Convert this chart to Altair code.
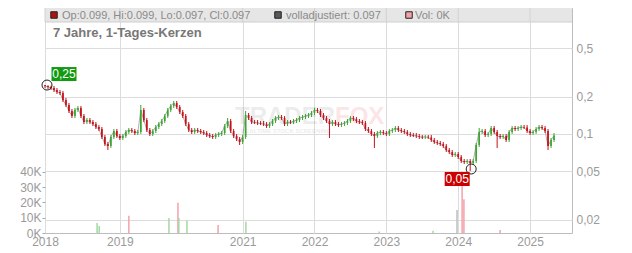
import altair as alt
import pandas as pd

# ---------------- data ----------------
# one candle per ~2 weeks (index axis, as the original uses a trading-day index)
first_open = 0.250
close = [
    0.2456, 0.2410, 0.2366, 0.2279, 0.2195, 0.2154, 0.1890, 0.1721, 0.1538, 0.1400,
    0.1567, 0.1627, 0.1400, 0.1251, 0.1299, 0.1251, 0.1205, 0.1140, 0.1098, 0.0945,
    0.0829, 0.0799, 0.0945, 0.1058, 0.0963, 0.0928, 0.0963, 0.1038, 0.1078, 0.1058,
    0.1019, 0.1038, 0.1567, 0.1299, 0.1078, 0.1000, 0.1058, 0.1140, 0.1205, 0.1275,
    0.1400, 0.1567, 0.1689, 0.1786, 0.1657, 0.1509, 0.1400, 0.1205, 0.1078, 0.1038,
    0.1078, 0.1058, 0.1038, 0.1019, 0.0981, 0.0963, 0.0945, 0.0981, 0.1000, 0.1019,
    0.1161, 0.1275, 0.1058, 0.0963, 0.0911, 0.0861, 0.0945, 0.1427, 0.1349, 0.1251,
    0.1240, 0.1228, 0.1215, 0.1205, 0.1161, 0.1205, 0.1275, 0.1349, 0.1374, 0.1349,
    0.1205, 0.1251, 0.1240, 0.1275, 0.1299, 0.1349, 0.1374, 0.1400, 0.1427, 0.1481,
    0.1567, 0.1538, 0.1427, 0.1349, 0.1275, 0.1205, 0.1251, 0.1205, 0.1183, 0.1205,
    0.1228, 0.1275, 0.1349, 0.1324, 0.1275, 0.1251, 0.1228, 0.1098, 0.1058, 0.1000,
    0.0963, 0.1019, 0.1038, 0.1019, 0.1000, 0.1058, 0.1078, 0.1119, 0.1078, 0.1058,
    0.1038, 0.1000, 0.0981, 0.0970, 0.0963, 0.0950, 0.0940, 0.0948, 0.0938, 0.0894,
    0.0861, 0.0845, 0.0829, 0.0799, 0.0741, 0.0714, 0.0675, 0.0688, 0.0650, 0.0603,
    0.0592, 0.0603, 0.0581, 0.0603, 0.0814, 0.1038, 0.1058, 0.0981, 0.1000, 0.1119,
    0.1038, 0.0963, 0.0945, 0.0963, 0.0894, 0.1038, 0.1119, 0.1098, 0.1119, 0.1140,
    0.1130, 0.1058, 0.1019, 0.1038, 0.1098, 0.1140, 0.1119, 0.1058, 0.0799, 0.0894,
    0.0970,
]
high = [
    0.2500, 0.2490, 0.2470, 0.2456, 0.2366, 0.2279, 0.2237, 0.1962, 0.1786, 0.1596,
    0.1627, 0.1689, 0.1689, 0.1454, 0.1349, 0.1349, 0.1299, 0.1251, 0.1183, 0.1140,
    0.0981, 0.0861, 0.0981, 0.1098, 0.1098, 0.1000, 0.1000, 0.1078, 0.1119, 0.1119,
    0.1098, 0.1078, 0.1721, 0.1627, 0.1349, 0.1119, 0.1098, 0.1183, 0.1251, 0.1324,
    0.1454, 0.1627, 0.1753, 0.1855, 0.1855, 0.1721, 0.1567, 0.1454, 0.1251, 0.1119,
    0.1119, 0.1119, 0.1098, 0.1078, 0.1058, 0.1019, 0.1000, 0.1019, 0.1038, 0.1058,
    0.1205, 0.1349, 0.1324, 0.1098, 0.1000, 0.0945, 0.0981, 0.1538, 0.1481, 0.1400,
    0.1299, 0.1299, 0.1275, 0.1275, 0.1251, 0.1251, 0.1324, 0.1400, 0.1427, 0.1427,
    0.1400, 0.1299, 0.1299, 0.1324, 0.1349, 0.1400, 0.1427, 0.1454, 0.1481, 0.1538,
    0.1627, 0.1627, 0.1596, 0.1481, 0.1400, 0.1324, 0.1299, 0.1299, 0.1251, 0.1251,
    0.1275, 0.1324, 0.1400, 0.1400, 0.1374, 0.1324, 0.1299, 0.1275, 0.1140, 0.1098,
    0.1038, 0.1058, 0.1078, 0.1078, 0.1058, 0.1098, 0.1119, 0.1161, 0.1161, 0.1119,
    0.1098, 0.1078, 0.1038, 0.1019, 0.1019, 0.1000, 0.0981, 0.0981, 0.0981, 0.0981,
    0.0928, 0.0894, 0.0877, 0.0861, 0.0829, 0.0770, 0.0741, 0.0714, 0.0714, 0.0675,
    0.0626, 0.0626, 0.0626, 0.0626, 0.0845, 0.1119, 0.1098, 0.1098, 0.1038, 0.1161,
    0.1161, 0.1078, 0.1000, 0.1000, 0.1000, 0.1078, 0.1161, 0.1161, 0.1161, 0.1183,
    0.1183, 0.1183, 0.1098, 0.1078, 0.1140, 0.1183, 0.1183, 0.1161, 0.1098, 0.0928,
    0.1019,
]
low = [
    0.2366, 0.2322, 0.2279, 0.2195, 0.2114, 0.2075, 0.1820, 0.1657, 0.1481, 0.1349,
    0.1349, 0.1509, 0.1349, 0.1205, 0.1205, 0.1205, 0.1161, 0.1098, 0.1058, 0.0911,
    0.0799, 0.0741, 0.0770, 0.0911, 0.0928, 0.0894, 0.0894, 0.0928, 0.1000, 0.1019,
    0.0981, 0.0981, 0.1000, 0.1251, 0.1038, 0.0963, 0.0963, 0.1019, 0.1098, 0.1161,
    0.1228, 0.1349, 0.1509, 0.1627, 0.1596, 0.1454, 0.1349, 0.1161, 0.1038, 0.1000,
    0.1000, 0.1019, 0.1000, 0.0981, 0.0945, 0.0928, 0.0911, 0.0911, 0.0945, 0.0963,
    0.0981, 0.1119, 0.1019, 0.0928, 0.0877, 0.0814, 0.0829, 0.0911, 0.1299, 0.1205,
    0.1205, 0.1183, 0.1183, 0.1161, 0.1119, 0.1119, 0.1161, 0.1228, 0.1299, 0.1299,
    0.1161, 0.1161, 0.1205, 0.1205, 0.1228, 0.1251, 0.1299, 0.1324, 0.1349, 0.1374,
    0.1427, 0.1481, 0.1374, 0.1299, 0.1228, 0.0928, 0.1161, 0.1161, 0.1140, 0.1140,
    0.1161, 0.1183, 0.1228, 0.1275, 0.1228, 0.1205, 0.1183, 0.1058, 0.1019, 0.0963,
    0.0770, 0.0928, 0.0981, 0.0981, 0.0963, 0.0963, 0.1019, 0.1038, 0.1038, 0.1019,
    0.1000, 0.0963, 0.0945, 0.0945, 0.0928, 0.0911, 0.0911, 0.0911, 0.0911, 0.0861,
    0.0829, 0.0814, 0.0799, 0.0770, 0.0714, 0.0688, 0.0650, 0.0650, 0.0626, 0.0581,
    0.0570, 0.0570, 0.0500, 0.0560, 0.0581, 0.0784, 0.1000, 0.0945, 0.0945, 0.0963,
    0.1000, 0.0770, 0.0911, 0.0911, 0.0861, 0.0861, 0.1000, 0.1058, 0.1058, 0.1078,
    0.1098, 0.1019, 0.0981, 0.0981, 0.1000, 0.1058, 0.1078, 0.1019, 0.0741, 0.0770,
    0.0861,
]

# first candle index of each year (2020 has few sessions -> no label)
year_ticks = [0, 25, 66, 90, 114, 138, 162]
year_labels = ["2018", "2019", "2021", "2022", "2023", "2024", "2025"]
x_end = 176

# volume spikes (position in candle index units)
vol_pos = [17.4, 18.1, 28.0, 41.4, 44.4, 44.7, 47.4, 57.8, 67.1, 111.6, 129.6, 137.6, 139.3, 139.9, 152.0]
vol_val = [6500, 4600, 11300, 9800, 19800, 9800, 8000, 5200, 7400, 900, 1500, 15000, 36000, 22000, 2000]
vol_kind = ["up", "up", "down", "up", "down", "up", "up", "down", "up", "up", "up", "flat", "down", "down", "down"]

price_ticks = [0.02, 0.05, 0.1, 0.2, 0.5]
price_domain = [0.01567, 1.0577]
vol_ticks = [0, 10000, 20000, 30000, 40000]
vol_domain = [0, 147000]

last_ohlc = {"Op": 0.099, "Hi": 0.099, "Lo": 0.097, "Cl": 0.097}
adj_close = 0.097
last_volume_k = 0
title_text = "7 Jahre, 1-Tages-Kerzen"

# ---------------- build tables ----------------
n = len(close)
opens = [first_open] + close[:-1]
candles = pd.DataFrame({"i": list(range(n)), "open": opens, "close": close, "high": high, "low": low})
candles["dir"] = ["up" if c >= o else "down" for o, c in zip(opens, close)]

i_hi = high.index(max(high))
i_lo = low.index(min(low))
hi_df = pd.DataFrame({"i": [i_hi], "price": [high[i_hi]], "label": [f"{high[i_hi]:.2f}".replace(".", ",")]})
lo_df = pd.DataFrame({"i": [i_lo], "price": [low[i_lo]], "label": [f"{low[i_lo]:.2f}".replace(".", ",")]})

vol_df = pd.DataFrame({"i": vol_pos, "vol": vol_val, "kind": vol_kind})
year_df = pd.DataFrame({"i": year_ticks})

FONT = "Liberation Sans"
GREEN = "#3ea535"
RED = "#c5121b"
GRID = "#dcdcdc"
LAB = "#9a9a9a"

year_expr = " : ".join(f"datum.value == {t} ? '{l}'" for t, l in zip(year_ticks, year_labels)) + " : ''"

x_axis = alt.Axis(values=year_ticks, labelExpr=year_expr, grid=True, gridColor=GRID, ticks=False,
                  domain=False, title=None, labelPadding=3, labelFontSize=12, labelColor=LAB,
                  labelFont=FONT, labelFlush=False)


def xe():
    return alt.X("i:Q", scale=alt.Scale(domain=[0, x_end], nice=False, zero=False), axis=x_axis)


price_axis = alt.Axis(orient="right", values=price_ticks,
                      labelExpr="replace(format(datum.value, '~g'), '.', ',')",
                      grid=True, gridColor=GRID, ticks=False, domain=False, title=None,
                      labelPadding=4, labelFontSize=12, labelColor=LAB, labelFont=FONT)


def py(field):
    return alt.Y(f"{field}:Q", scale=alt.Scale(type="log", domain=price_domain, nice=False), axis=price_axis)


dir_color = alt.Color("dir:N", scale=alt.Scale(domain=["up", "down"], range=[GREEN, RED]), legend=None)

line = alt.Chart(candles).mark_line(color="#9a9a9a", strokeWidth=0.8).encode(x=xe(), y=py("close"))
wick = alt.Chart(candles).mark_rule(strokeWidth=1).encode(x=xe(), y=py("low"), y2="high:Q", color=dir_color)
body = alt.Chart(candles).mark_rule(strokeWidth=1.7).encode(x=xe(), y=py("open"), y2="close:Q", color=dir_color)

BOX = "M-1,-0.56L1,-0.56L1,0.56L-1,0.56Z"
circ_hi = alt.Chart(hi_df).mark_point(shape="circle", size=100, filled=False, color="#222", strokeWidth=1, opacity=1, xOffset=2).encode(x=xe(), y=py("price"))
circ_lo = alt.Chart(lo_df).mark_point(shape="circle", size=100, filled=False, color="#222", strokeWidth=1, opacity=1, xOffset=1, yOffset=-2).encode(x=xe(), y=py("price"))
box_hi = alt.Chart(hi_df).mark_point(shape=BOX, size=625, filled=True, color="#129a12", opacity=1, xOffset=19, yOffset=-11).encode(x=xe(), y=py("price"))
box_lo = alt.Chart(lo_df).mark_point(shape=BOX, size=625, filled=True, color="#cc0000", opacity=1, xOffset=-13, yOffset=8).encode(x=xe(), y=py("price"))
txt_hi = alt.Chart(hi_df).mark_text(color="white", fontSize=12, font=FONT, dx=19, dy=-11, align="center", baseline="middle").encode(x=xe(), y=py("price"), text="label:N")
txt_lo = alt.Chart(lo_df).mark_text(color="white", fontSize=12, font=FONT, dx=-13, dy=8, align="center", baseline="middle").encode(x=xe(), y=py("price"), text="label:N")

price = alt.layer(line, wick, body, circ_hi, circ_lo, box_hi, txt_hi, box_lo, txt_lo)

vol_axis = alt.Axis(orient="left", values=vol_ticks, labelExpr="(datum.value / 1000) + 'K'", grid=False,
                    domain=False, tickSize=3, tickColor="#aaaaaa", title=None, labelPadding=1,
                    labelFontSize=12, labelColor=LAB, labelFont=FONT)
vol = alt.Chart(vol_df).mark_rule(strokeWidth=1.5).encode(
    x=xe(),
    y=alt.Y("vol:Q", scale=alt.Scale(domain=vol_domain, nice=False), axis=vol_axis),
    y2=alt.datum(0),
    color=alt.Color("kind:N", scale=alt.Scale(domain=["up", "down", "flat"], range=["#a3d9a0", "#f2a2aa", "#bdbdbd"]), legend=None),
)

blank = alt.Data(values=[{"a": 1}])
band = alt.Chart(blank).mark_rect(color="#e6e6e6").encode(x=alt.value(0), x2=alt.value(527), y=alt.value(0), y2=alt.value(14))
band_grid = alt.Chart(year_df).mark_rule(color="#d2d2d2").encode(x=xe(), y=alt.value(0), y2=alt.value(14))
band_line = alt.Chart(blank).mark_rule(color="#cfcfcf").encode(x=alt.value(0), x2=alt.value(527), y=alt.value(14))

wm1 = alt.Chart(blank).mark_text(text="TRADER", font=FONT, fontSize=24, fontWeight="bold", color="#000000", opacity=0.07, align="left", baseline="alphabetic").encode(x=alt.value(190), y=alt.value(116))
wm2 = alt.Chart(blank).mark_text(text="FOX", font=FONT, fontSize=24, fontWeight="bold", color="#e8303a", opacity=0.12, align="left", baseline="alphabetic").encode(x=alt.value(290), y=alt.value(116))
wm3 = alt.Chart(blank).mark_text(text="REALTIME STOCK SCREENING", font=FONT, fontSize=6, fontWeight="bold", color="#000000", opacity=0.08, align="left", baseline="middle").encode(x=alt.value(196), y=alt.value(123))

ohlc_text = ", ".join(f"{k}:{v}" for k, v in last_ohlc.items())
leg_sq1 = alt.Chart(blank).mark_square(size=42, color="#b01010", stroke="#222", strokeWidth=1, opacity=1).encode(x=alt.value(9), y=alt.value(7))
leg_t1 = alt.Chart(blank).mark_text(text=ohlc_text, font=FONT, fontSize=11, color="#8a8a8a", align="left", baseline="middle").encode(x=alt.value(17), y=alt.value(7.5))
leg_sq2 = alt.Chart(blank).mark_square(size=42, color="#5a5a5a", stroke="#222", strokeWidth=1, opacity=1).encode(x=alt.value(233), y=alt.value(7))
leg_t2 = alt.Chart(blank).mark_text(text=f"volladjustiert: {adj_close}", font=FONT, fontSize=11, color="#8a8a8a", align="left", baseline="middle").encode(x=alt.value(241), y=alt.value(7.5))
leg_sq3 = alt.Chart(blank).mark_square(size=42, color="#f2a2aa", stroke="#222", strokeWidth=1, opacity=1).encode(x=alt.value(364), y=alt.value(7))
leg_t3 = alt.Chart(blank).mark_text(text=f"Vol: {last_volume_k}K", font=FONT, fontSize=11, color="#8a8a8a", align="left", baseline="middle").encode(x=alt.value(370), y=alt.value(7.5))
title = alt.Chart(blank).mark_text(text=title_text, font=FONT, fontSize=13, fontWeight="bold", color="#777777", align="left", baseline="middle").encode(x=alt.value(8), y=alt.value(25))

chart = alt.layer(
    band, band_grid, band_line, wm1, wm2, wm3, vol, price,
    leg_sq1, leg_t1, leg_sq2, leg_t2, leg_sq3, leg_t3, title,
).resolve_scale(y="independent", color="independent").properties(
    width=527, height=225,
    autosize=alt.AutoSizeParams(type="none"),
    padding={"left": 45, "top": 8, "right": 60, "bottom": 20},
).configure(font=FONT, background="white").configure_view(stroke="#bdbdbd", strokeWidth=1)

chart.save("out.html", embed_options={"renderer": "svg", "actions": False})
